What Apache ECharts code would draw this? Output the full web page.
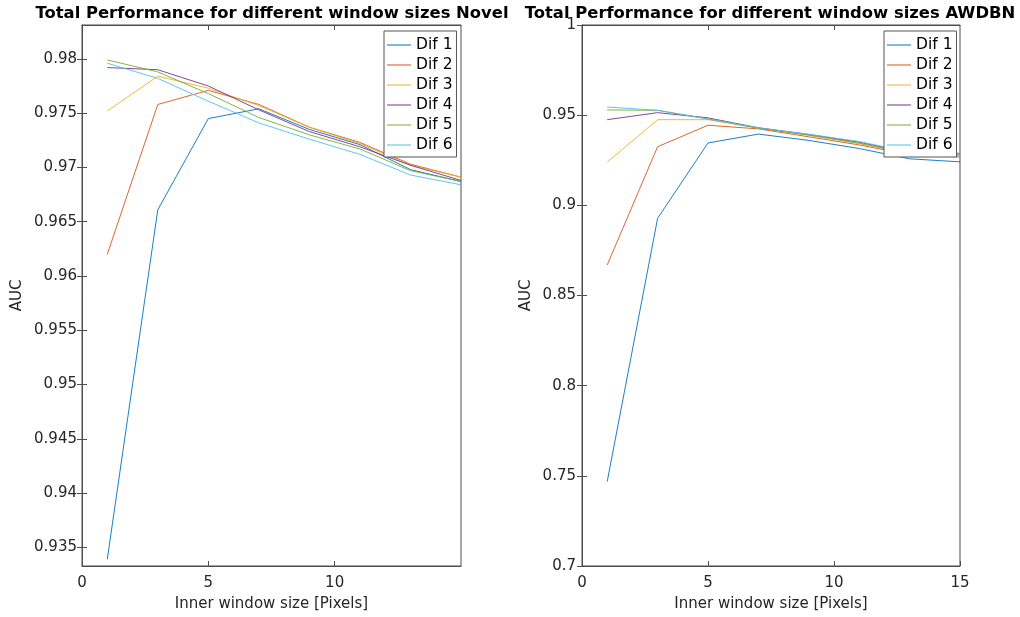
<!DOCTYPE html>
<html>
<head>
<meta charset="utf-8">
<script src="https://cdn.jsdelivr.net/npm/echarts@6/dist/echarts.min.js"></script>
<style>
  html, body { margin: 0; padding: 0; background: #fff; }
  #chart { width: 1020px; height: 617px; }
</style>
</head>
<body>
<div id="chart"></div>
<script>
// inner window sizes (x)
const windowSizes = [1, 3, 5, 7, 9, 11, 13, 15];
const difNames = ['Dif 1', 'Dif 2', 'Dif 3', 'Dif 4', 'Dif 5', 'Dif 6'];

// left panel: Novel
const novelDif1 = [0.9339, 0.9661, 0.9745, 0.9754, 0.9735, 0.9721, 0.9698, 0.9687];
const novelDif2 = [0.9620, 0.9758, 0.9771, 0.9758, 0.9737, 0.9723, 0.9703, 0.9691];
const novelDif3 = [0.9752, 0.9784, 0.9773, 0.9757, 0.9737, 0.9722, 0.9702, 0.9691];
const novelDif4 = [0.9792, 0.9790, 0.9775, 0.9753, 0.9733, 0.9719, 0.9702, 0.9688];
const novelDif5 = [0.9799, 0.9788, 0.9768, 0.9746, 0.9730, 0.9717, 0.9697, 0.9687];
const novelDif6 = [0.9796, 0.9782, 0.9761, 0.9741, 0.9726, 0.9712, 0.9693, 0.9684];

// right panel: AWDBN
const awdbnDif1 = [0.7468, 0.8928, 0.9346, 0.9395, 0.9360, 0.9315, 0.9258, 0.9241];
const awdbnDif2 = [0.8669, 0.9325, 0.9444, 0.9424, 0.9380, 0.9335, 0.9280, 0.9268];
const awdbnDif3 = [0.9239, 0.9475, 0.9475, 0.9428, 0.9388, 0.9342, 0.9285, 0.9275];
const awdbnDif4 = [0.9475, 0.9514, 0.9485, 0.9430, 0.9393, 0.9350, 0.9292, 0.9285];
const awdbnDif5 = [0.9529, 0.9527, 0.9479, 0.9428, 0.9390, 0.9345, 0.9288, 0.9280];
const awdbnDif6 = [0.9545, 0.9527, 0.9479, 0.9430, 0.9394, 0.9354, 0.9295, 0.9290];

// tick labels
const novelXTicks = [0, 5, 10];
const novelYTicks = [0.935, 0.94, 0.945, 0.95, 0.955, 0.96, 0.965, 0.97, 0.975, 0.98];
const awdbnXTicks = [0, 5, 10, 15];

const novelSets = [novelDif1, novelDif2, novelDif3, novelDif4, novelDif5, novelDif6];
const awdbnSets = [awdbnDif1, awdbnDif2, awdbnDif3, awdbnDif4, awdbnDif5, awdbnDif6];

const colors = ['#0072BD', '#D95319', '#EDB120', '#7E2F8E', '#77AC30', '#4DBEEE'];
const font = 'DejaVu Sans';
const axisColor = '#4d4d4d';
const textColor = '#262626';

function pairs(vals) {
  return windowSizes.map((x, i) => [x, vals[i]]);
}

function makeSeries(sets, gridIdx) {
  return sets.map((vals, i) => ({
    name: difNames[i],
    type: 'line',
    xAxisIndex: gridIdx,
    yAxisIndex: gridIdx,
    data: pairs(vals),
    symbol: 'none',
    lineStyle: { width: 0.9, color: colors[i] },
    itemStyle: { color: colors[i] },
    clip: true,
    animation: false
  }));
}

function bottomX(gridIdx, ticks) {
  return {
    type: 'value', gridIndex: gridIdx, min: 0, max: 15, position: 'bottom',
    name: 'Inner window size [Pixels]', nameLocation: 'middle', nameGap: 31,
    nameTextStyle: { fontFamily: font, fontSize: 15, color: textColor },
    axisLine: { show: true, lineStyle: { color: axisColor } },
    axisTick: { show: true, inside: true, length: 5, customValues: ticks, lineStyle: { color: axisColor } },
    axisLabel: { customValues: ticks, fontFamily: font, fontSize: 15, color: textColor, margin: 10 },
    splitLine: { show: false }
  };
}

function topX(gridIdx) {
  return {
    type: 'value', gridIndex: gridIdx, min: 0, max: 15, position: 'top',
    axisLine: { show: true, lineStyle: { color: axisColor } },
    axisTick: { show: true, inside: true, length: 5, customValues: [5, 10], lineStyle: { color: axisColor } },
    axisLabel: { show: false },
    splitLine: { show: false }
  };
}

function legendAt(left) {
  return {
    data: difNames, orient: 'vertical', left: left, top: 31,
    icon: 'path://M0,0H24V1H0Z', itemWidth: 24, itemHeight: 1, itemGap: 4,
    padding: [6, 4, 4, 3], borderColor: '#555', borderWidth: 1, backgroundColor: '#fff',
    textStyle: { fontFamily: font, fontSize: 15.5, color: '#000', lineHeight: 15 },
    selectedMode: false
  };
}

const tickFmt = v => String(+(+v).toFixed(3));

const option = {
  backgroundColor: '#fff',
  animation: false,
  title: [
    { text: 'Total Performance for different window sizes Novel', left: 267, top: 1, textAlign: 'center',
      textStyle: { fontFamily: font, fontSize: 16.4, fontWeight: 'bold', color: '#000' } },
    { text: 'Total Performance for different window sizes AWDBN', left: 765, top: 1, textAlign: 'center',
      textStyle: { fontFamily: font, fontSize: 16.4, fontWeight: 'bold', color: '#000' } }
  ],
  legend: [legendAt(384), legendAt(884)],
  grid: [
    { left: 82, top: 25, width: 379, height: 543, show: true, borderColor: axisColor, borderWidth: 1, backgroundColor: 'transparent' },
    { left: 582, top: 25, width: 378, height: 543, show: true, borderColor: axisColor, borderWidth: 1, backgroundColor: 'transparent' }
  ],
  xAxis: [
    bottomX(0, novelXTicks),
    bottomX(1, awdbnXTicks),
    topX(0),
    topX(1)
  ],
  yAxis: [
    {
      type: 'value', gridIndex: 0, min: 0.93328, max: 0.98312, position: 'left',
      name: 'AUC', nameLocation: 'middle', nameGap: 57, nameRotate: 90,
      nameTextStyle: { fontFamily: font, fontSize: 15, color: textColor },
      axisLine: { show: true, lineStyle: { color: axisColor } },
      axisTick: { show: true, inside: true, length: 5, customValues: novelYTicks, lineStyle: { color: axisColor } },
      axisLabel: { customValues: novelYTicks, formatter: tickFmt, fontFamily: font, fontSize: 15, color: textColor, margin: 5 },
      splitLine: { show: false }
    },
    {
      type: 'value', gridIndex: 1, min: 0.7, max: 1, interval: 0.05, position: 'left',
      name: 'AUC', nameLocation: 'middle', nameGap: 48, nameRotate: 90,
      nameTextStyle: { fontFamily: font, fontSize: 15, color: textColor },
      axisLine: { show: true, lineStyle: { color: axisColor } },
      axisTick: { show: true, inside: true, length: 5, lineStyle: { color: axisColor } },
      axisLabel: { formatter: tickFmt, fontFamily: font, fontSize: 15, color: textColor, margin: 6 },
      splitLine: { show: false }
    },
    {
      type: 'value', gridIndex: 0, min: 0.93328, max: 0.98312, position: 'right',
      axisLine: { show: true, lineStyle: { color: axisColor } },
      axisTick: { show: true, inside: true, length: 5, customValues: novelYTicks, lineStyle: { color: axisColor } },
      axisLabel: { show: false },
      splitLine: { show: false }
    },
    {
      type: 'value', gridIndex: 1, min: 0.7, max: 1, interval: 0.05, position: 'right',
      axisLine: { show: true, lineStyle: { color: axisColor } },
      axisTick: { show: true, inside: true, length: 5, lineStyle: { color: axisColor } },
      axisLabel: { show: false },
      splitLine: { show: false }
    }
  ],
  series: makeSeries(novelSets, 0).concat(makeSeries(awdbnSets, 1))
};

const chart = echarts.init(document.getElementById('chart'), null, { renderer: 'canvas' });
chart.setOption(option);
</script>
</body>
</html>
